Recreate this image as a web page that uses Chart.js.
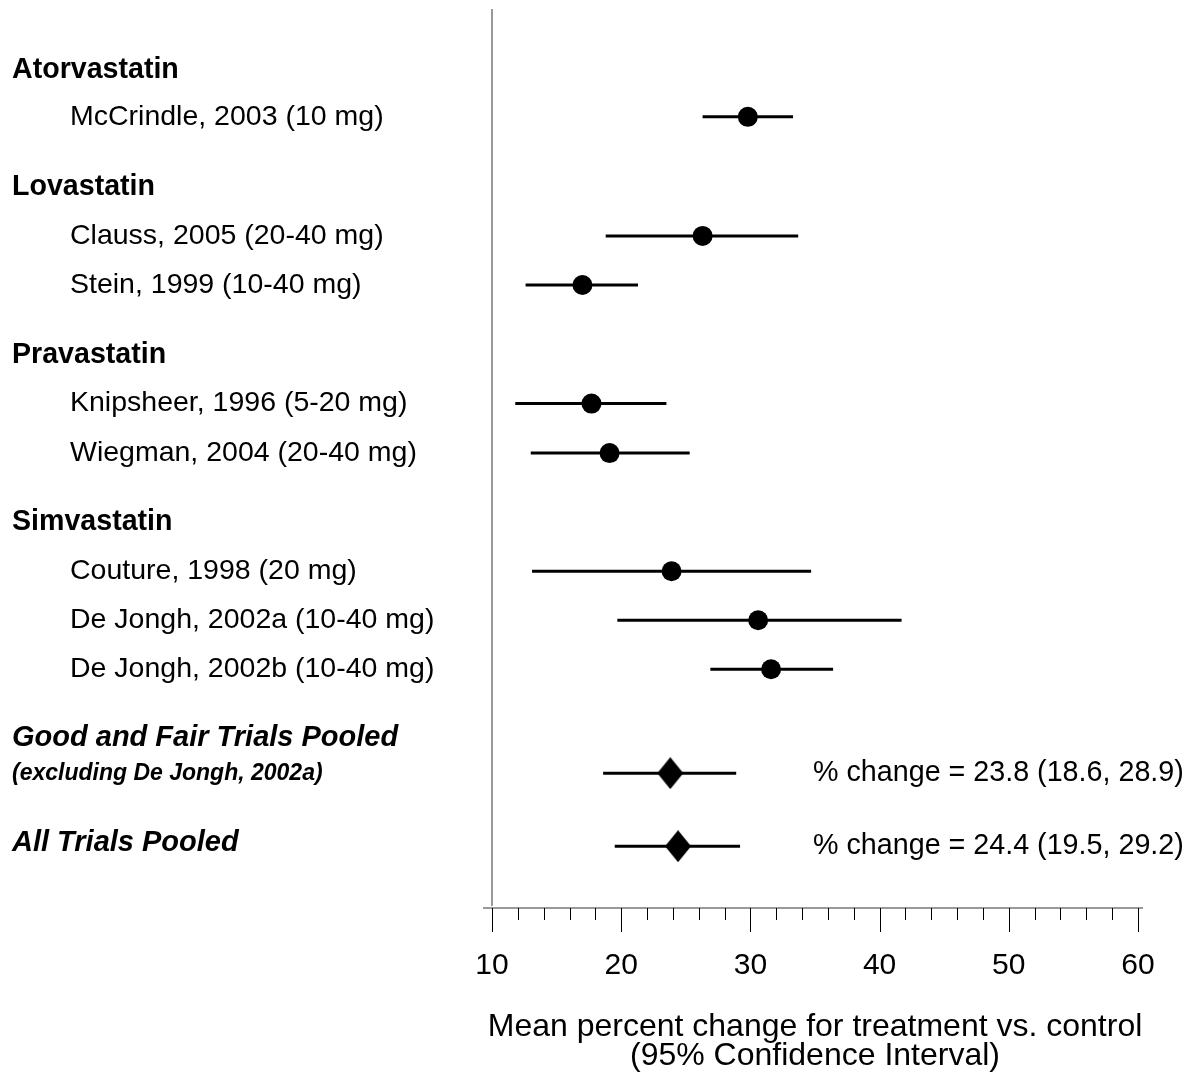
<!DOCTYPE html>
<html>
<head>
<meta charset="utf-8">
<script src="https://cdn.jsdelivr.net/npm/chart.js@4"></script>
<style>
  html, body { margin: 0; padding: 0; background: #fff; }
</style>
</head>
<body>
<canvas id="forestChart" width="1192" height="1074"></canvas>
<script>
// individual trials, top to bottom
const studyNames = [
    "McCrindle, 2003 (10 mg)",
    "Clauss, 2005 (20-40 mg)",
    "Stein, 1999 (10-40 mg)",
    "Knipsheer, 1996 (5-20 mg)",
    "Wiegman, 2004 (20-40 mg)",
    "Couture, 1998 (20 mg)",
    "De Jongh, 2002a (10-40 mg)",
    "De Jongh, 2002b (10-40 mg)"
];
const studyRows = [2.2, 4.63, 5.63, 8.05, 9.06, 11.47, 12.47, 13.47];
const studyMeans = [29.8, 26.3, 17.0, 17.7, 19.1, 23.9, 30.6, 31.6];
const studyLow = [26.3, 18.8, 12.6, 11.8, 13.0, 13.1, 19.7, 26.9];
const studyHigh = [33.3, 33.7, 21.3, 23.5, 25.3, 34.7, 41.7, 36.4];

// drug group headings
const drugNames = ["Atorvastatin", "Lovastatin", "Pravastatin", "Simvastatin"];
const drugRows = [1.24, 3.63, 7.06, 10.47];

// pooled estimates
const pooledNames = ["Good and Fair Trials Pooled", "All Trials Pooled"];
const pooledNotes = ["(excluding De Jongh, 2002a)", ""];
const pooledRows = [15.59, 17.08];
const pooledMeans = [23.8, 24.4];
const pooledLow = [18.6, 19.5];
const pooledHigh = [28.9, 29.2];

// x axis
const xMin = 10;
const xMax = 60;
const xTickLabels = [10, 20, 30, 40, 50, 60];
const xMinorStep = 2;
const xTitle = ["Mean percent change for treatment vs. control", "(95% Confidence Interval)"];

const FONT = "'Liberation Sans', Arial, Helvetica, sans-serif";

function makeDiamond(w, h) {
    const c = document.createElement("canvas");
    c.width = w;
    c.height = h;
    const g = c.getContext("2d");
    g.fillStyle = "#000";
    g.beginPath();
    g.moveTo(w / 2, 0);
    g.lineTo(w, h / 2);
    g.lineTo(w / 2, h);
    g.lineTo(0, h / 2);
    g.closePath();
    g.fill();
    return c;
}

// one line dataset per confidence interval
function ciLine(lo, hi, row) {
    return {
        type: "line",
        data: [{ x: lo, y: row }, { x: hi, y: row }],
        borderColor: "#000",
        borderWidth: 3,
        pointRadius: 0,
        showLine: true,
        order: 2
    };
}

const datasets = [];
studyRows.forEach((r, i) => datasets.push(ciLine(studyLow[i], studyHigh[i], r)));
pooledRows.forEach((r, i) => datasets.push(ciLine(pooledLow[i], pooledHigh[i], r)));

datasets.push({
    label: "Trials",
    data: studyRows.map((r, i) => ({ x: studyMeans[i], y: r })),
    pointStyle: "circle",
    pointRadius: 10,
    backgroundColor: "#000",
    borderWidth: 0,
    order: 1
});
datasets.push({
    label: "Pooled",
    data: pooledRows.map((r, i) => ({ x: pooledMeans[i], y: r })),
    pointStyle: makeDiamond(26, 32),
    pointRadius: 13,
    order: 1
});

// labels, reference line and axis drawn around the plot
const forestDecor = {
    id: "forestDecor",
    afterDraw(chart) {
        const ctx = chart.ctx;
        const xs = chart.scales.x;
        const ys = chart.scales.y;
        const area = chart.chartArea;
        ctx.save();

        // reference line at the left edge
        ctx.strokeStyle = "#999";
        ctx.lineWidth = 2;
        ctx.beginPath();
        ctx.moveTo(xs.getPixelForValue(xMin), area.top);
        ctx.lineTo(xs.getPixelForValue(xMin), area.bottom);
        ctx.stroke();

        // axis line
        const axisY = area.bottom + 2;
        ctx.strokeStyle = "#777";
        ctx.lineWidth = 1.5;
        ctx.beginPath();
        ctx.moveTo(area.left - 9, axisY);
        ctx.lineTo(area.right + 5, axisY);
        ctx.stroke();

        // ticks
        ctx.strokeStyle = "#000";
        ctx.lineWidth = 1;
        for (let v = xMin; v <= xMax; v += xMinorStep) {
            const px = Math.round(xs.getPixelForValue(v)) + 0.5;
            const len = v % 10 === 0 ? 24 : 12;
            ctx.beginPath();
            ctx.moveTo(px, axisY);
            ctx.lineTo(px, axisY + len);
            ctx.stroke();
        }

        ctx.fillStyle = "#000";
        ctx.textBaseline = "middle";
        ctx.textAlign = "center";
        ctx.font = "30px " + FONT;
        xTickLabels.forEach(v => ctx.fillText(String(v), xs.getPixelForValue(v), axisY + 58));

        const midX = (area.left + area.right) / 2;
        ctx.font = "32px " + FONT;
        ctx.fillText(xTitle[0], midX, axisY + 119);
        ctx.fillText(xTitle[1], midX, axisY + 148);

        // left labels
        ctx.textAlign = "left";
        ctx.font = "bold 28.6px " + FONT;
        drugNames.forEach((n, i) => ctx.fillText(n, 12, ys.getPixelForValue(drugRows[i])));
        ctx.font = "28.5px " + FONT;
        studyNames.forEach((n, i) => ctx.fillText(n, 70, ys.getPixelForValue(studyRows[i])));
        pooledNames.forEach((n, i) => {
            const py = ys.getPixelForValue(pooledRows[i]);
            if (pooledNotes[i]) {
                ctx.font = "italic bold 29px " + FONT;
                ctx.fillText(n, 12, py - 35);
                ctx.font = "italic bold 23px " + FONT;
                ctx.fillText(pooledNotes[i], 12, py);
            } else {
                ctx.font = "italic bold 29px " + FONT;
                ctx.fillText(n, 12, py - 3);
            }
        });

        // pooled estimate text
        ctx.font = "28.7px " + FONT;
        pooledRows.forEach((r, i) => {
            const txt = "% change = " + pooledMeans[i].toFixed(1) + " (" +
                pooledLow[i].toFixed(1) + ", " + pooledHigh[i].toFixed(1) + ")";
            ctx.fillText(txt, 813, ys.getPixelForValue(r));
        });

        ctx.restore();
    }
};

const ctx = document.getElementById("forestChart").getContext("2d");
new Chart(ctx, {
    type: "scatter",
    data: { datasets: datasets },
    options: {
        responsive: false,
        animation: false,
        clip: false,
        layout: { autoPadding: false, padding: { left: 492, right: 54, top: 9, bottom: 168 } },
        plugins: { legend: { display: false }, tooltip: { enabled: false } },
        scales: {
            x: { type: "linear", min: xMin, max: xMax, display: false },
            y: { type: "linear", min: 0, max: 18.3, reverse: true, display: false }
        }
    },
    plugins: [forestDecor]
});
</script>
</body>
</html>
